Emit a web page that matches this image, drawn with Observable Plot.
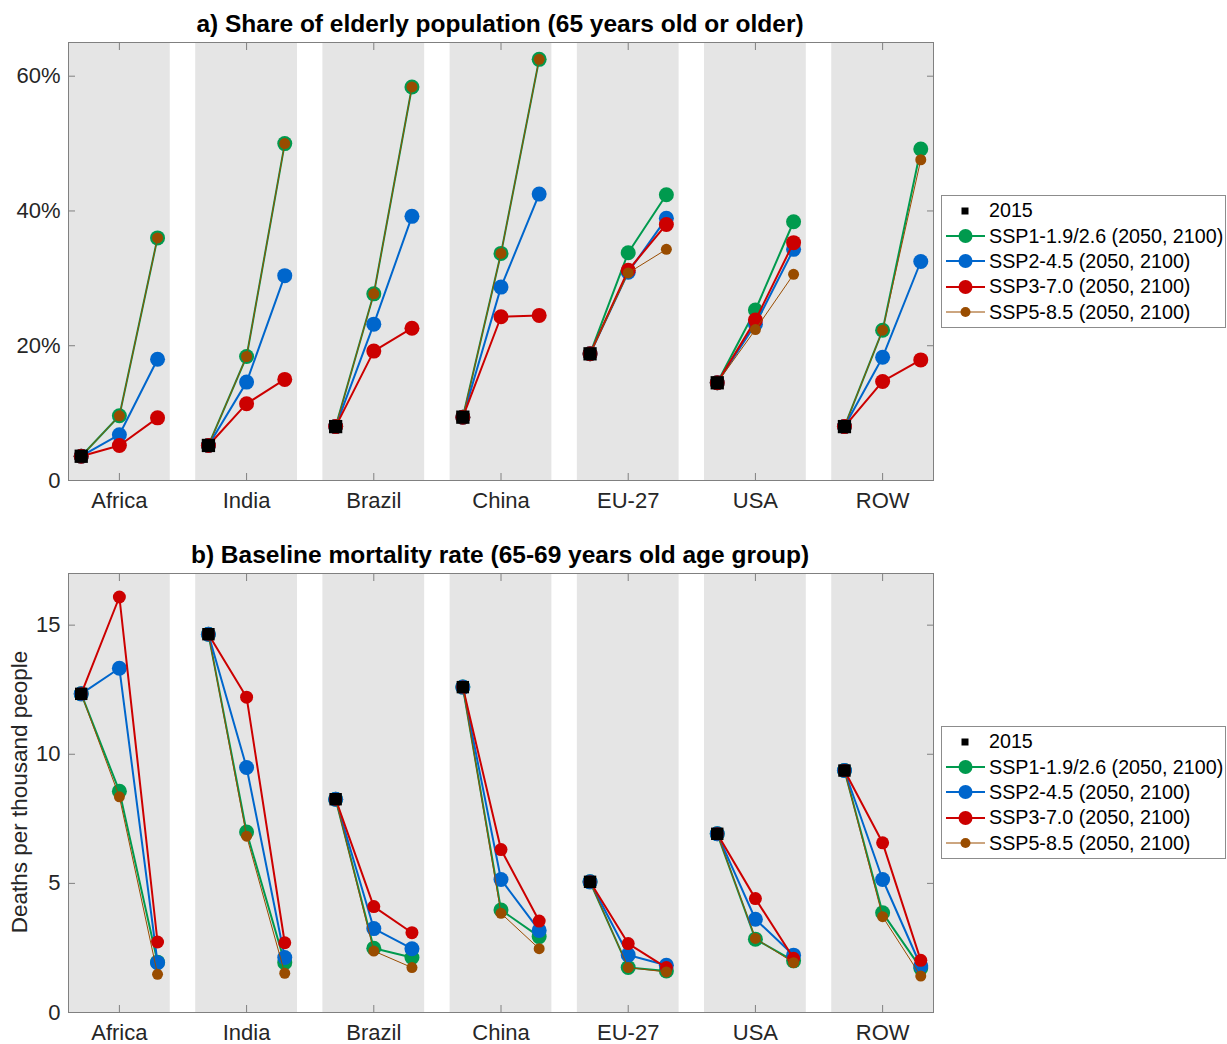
<!DOCTYPE html>
<html>
<head>
<meta charset="utf-8">
<script src="https://cdn.jsdelivr.net/npm/d3@7"></script>
<script src="https://cdn.jsdelivr.net/npm/@observablehq/plot@0.6"></script>
<style>
  body { margin: 0; background: #fff; font-family: "Liberation Sans", Arial, Helvetica, sans-serif; }
  #root { position: relative; width: 1227px; height: 1044px; overflow: hidden; }
  .panel { position: absolute; left: 0; }
  .title { position: absolute; font-weight: bold; font-size: 24.5px; color: #000; white-space: nowrap; transform: translateX(-50%); }
  .ylab { position: absolute; font-size: 22.5px; color: #262626; white-space: nowrap; transform: translate(-50%, -50%) rotate(-90deg); }
  .legend { position: absolute; left: 941px; width: 285px; border: 1px solid #8c8c8c; background: #fff; box-sizing: border-box; padding: 2px 0; }
  .legend .row { display: flex; align-items: center; height: 25.4px; font-size: 19.7px; color: #000; white-space: nowrap; }
  .legend svg { flex: none; margin-left: 4px; margin-right: 4px; }
</style>
</head>
<body>
<div id="root"></div>
<script>
// ---------------- data ----------------
const regions = ["Africa", "India", "Brazil", "China", "EU-27", "USA", "ROW"];
const years = [2015, 2050, 2100];

// a) Share of elderly population (%), 65+
const elderly2015 = [3.6, 5.2, 8.0, 9.4, 18.8, 14.5, 8.0];
// [2050, 2100] per region
const elderlySSP1 = [[9.6, 36.0], [18.4, 50.0], [27.7, 58.4], [33.7, 62.5], [33.8, 42.4], [25.3, 38.4], [22.3, 49.2]];
const elderlySSP2 = [[6.8, 18.0], [14.6, 30.4], [23.2, 39.2], [28.7, 42.5], [30.9, 38.9], [23.2, 34.3], [18.3, 32.5]];
const elderlySSP3 = [[5.2, 9.3], [11.4, 15.0], [19.2, 22.6], [24.3, 24.5], [31.2, 38.0], [23.8, 35.3], [14.7, 17.9]];
const elderlySSP5 = [[9.6, 36.0], [18.4, 50.0], [27.7, 58.4], [33.7, 62.5], [30.8, 34.3], [22.4, 30.6], [22.3, 47.6]];

// b) Baseline mortality rate (deaths per thousand), 65-69
const mort2015 = [12.34, 14.65, 8.26, 12.60, 5.06, 6.92, 9.37];
const mortSSP1 = [[8.57, 1.95], [6.99, 1.93], [2.49, 2.13], [3.97, 2.94], [1.74, 1.61], [2.84, 2.00], [3.86, 1.72]];
const mortSSP2 = [[13.33, 1.93], [9.49, 2.13], [3.25, 2.47], [5.15, 3.18], [2.23, 1.83], [3.61, 2.22], [5.15, 1.80]];
const mortSSP3 = [[16.09, 2.73], [12.21, 2.70], [4.10, 3.09], [6.31, 3.54], [2.67, 1.74], [4.41, 2.10], [6.57, 2.02]];
const mortSSP5 = [[8.35, 1.48], [6.83, 1.52], [2.38, 1.74], [3.84, 2.47], [1.74, 1.57], [2.87, 1.93], [3.71, 1.41]];

const seriesNames = ["SSP1-1.9/2.6 (2050, 2100)", "SSP2-4.5 (2050, 2100)", "SSP3-7.0 (2050, 2100)", "SSP5-8.5 (2050, 2100)"];
const baseLabel = "2015";

// ---------------- styles ----------------
const seriesStyle = [
  {color: "#009a4e", width: 2, r: 7.5},
  {color: "#0066cc", width: 2, r: 7.5},
  {color: "#cc0000", width: 2, r: 7.5},
  {color: "#994c00", width: 1, r: 5.5}
];
const yearOffset = {2015: -0.3, 2050: 0, 2100: 0.3};
const axisColor = "#808080";
const textColor = "#262626";
const bandColor = "#e5e5e5";
const tickFont = 22;

function buildRows(base, seriesArrays) {
  const rows = [];
  seriesArrays.forEach((arr, s) => {
    regions.forEach((reg, i) => {
      const vals = [base[i], arr[i][0], arr[i][1]];
      years.forEach((yr, k) => rows.push({s, region: reg, i, year: yr, value: vals[k], x: i + 1 + yearOffset[yr]}));
    });
  });
  return rows;
}

function panel({base, seriesArrays, yDomain, yTicks, yFormat, top, height, marginTop, marginBottom, redR, squareR}) {
  const rows = buildRows(base, seriesArrays);
  const baseRows = regions.map((reg, i) => ({region: reg, i, value: base[i], x: i + 1 + yearOffset[2015]}));
  const marks = [
    Plot.rect(regions.map((r, i) => i + 1), {x1: d => d - 0.4, x2: d => d + 0.4, fill: bandColor})
  ];
  seriesStyle.forEach((st, s) => {
    const data = rows.filter(d => d.s === s);
    const r = (s === 2 && redR) ? redR : st.r;
    marks.push(Plot.line(data, {x: "x", y: "value", z: "region", stroke: st.color, strokeWidth: st.width}));
    marks.push(Plot.dot(data, {x: "x", y: "value", r, fill: st.color, stroke: "none"}));
  });
  marks.push(Plot.dot(baseRows, {x: "x", y: "value", symbol: "square", r: squareR, fill: "#000", stroke: "none"}));
  const xt = regions.map((r, i) => i + 1);
  marks.push(
    Plot.frame({stroke: axisColor, strokeWidth: 1}),
    Plot.axisX(xt, {anchor: "bottom", tickSize: -7, tickPadding: 19, stroke: axisColor, color: textColor, fontSize: tickFont, tickFormat: d => regions[d - 1], label: null}),
    Plot.axisX(xt, {anchor: "top", tickSize: -7, stroke: axisColor, tickFormat: () => "", label: null}),
    Plot.axisY(yTicks, {anchor: "left", tickSize: -7, tickPadding: 15, stroke: axisColor, color: textColor, fontSize: tickFont, tickFormat: yFormat, label: null}),
    Plot.axisY(yTicks, {anchor: "right", tickSize: -7, stroke: axisColor, tickFormat: () => "", label: null})
  );
  const svg = Plot.plot({
    width: 940,
    height,
    marginLeft: 68,
    marginRight: 7,
    marginTop,
    marginBottom,
    style: {fontFamily: "'Liberation Sans', Arial, Helvetica, sans-serif", background: "transparent", overflow: "visible"},
    x: {domain: [0.6, 7.4]},
    y: {domain: yDomain},
    marks
  });
  svg.classList.add("panel");
  svg.style.top = top + "px";
  return svg;
}

function legend(topPx) {
  const div = document.createElement("div");
  div.className = "legend";
  div.style.top = topPx + "px";
  const mk = (inner, label) => {
    const row = document.createElement("div");
    row.className = "row";
    row.innerHTML = `<svg width="39" height="16" viewBox="0 0 39 16">${inner}</svg><span>${label}</span>`;
    div.appendChild(row);
  };
  mk(`<rect x="15.5" y="4.5" width="7" height="7" fill="#000"/>`, baseLabel);
  seriesNames.forEach((name, s) => {
    const st = seriesStyle[s];
    mk(`<line x1="0" x2="39" y1="8" y2="8" stroke="${st.color}" stroke-width="${st.width}"/><circle cx="19.5" cy="8" r="${s === 3 ? 5 : 7}" fill="${st.color}"/>`, name);
  });
  return div;
}

const root = document.getElementById("root");

const tA = document.createElement("div");
tA.className = "title"; tA.style.left = "500px"; tA.style.top = "10px";
tA.textContent = "a) Share of elderly population (65 years old or older)";
root.appendChild(tA);

root.appendChild(panel({
  base: elderly2015,
  seriesArrays: [elderlySSP1, elderlySSP2, elderlySSP3, elderlySSP5],
  yDomain: [0, 65], yTicks: [0, 20, 40, 60], yFormat: d => d === 0 ? "0" : d + "%",
  top: 0, height: 520, marginTop: 42, marginBottom: 40, squareR: 7.5
}));
root.appendChild(legend(195));

const tB = document.createElement("div");
tB.className = "title"; tB.style.left = "500px"; tB.style.top = "541px";
tB.textContent = "b) Baseline mortality rate (65-69 years old age group)";
root.appendChild(tB);

root.appendChild(panel({
  base: mort2015,
  seriesArrays: [mortSSP1, mortSSP2, mortSSP3, mortSSP5],
  yDomain: [0, 17], yTicks: [0, 5, 10, 15], yFormat: d => String(d),
  top: 530, height: 514, marginTop: 43, marginBottom: 32, redR: 6.5, squareR: 7
}));
root.appendChild(legend(726));

const yl = document.createElement("div");
yl.className = "ylab"; yl.style.left = "20px"; yl.style.top = "792px";
yl.textContent = "Deaths per thousand people";
root.appendChild(yl);
</script>
</body>
</html>
